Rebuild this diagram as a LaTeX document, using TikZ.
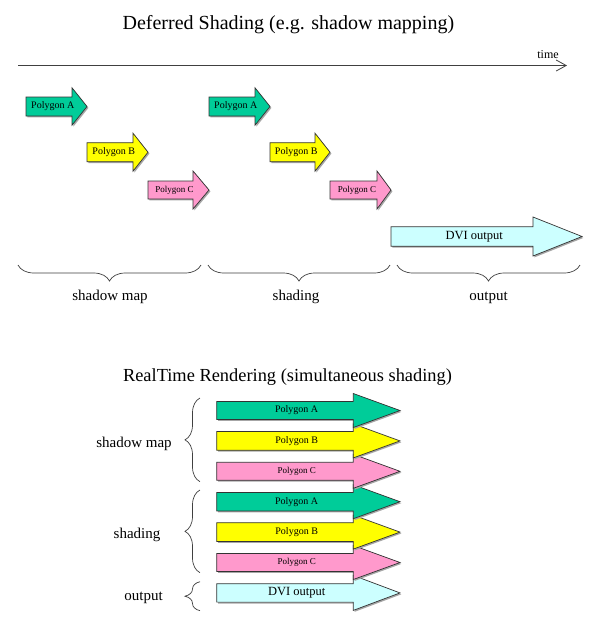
\documentclass[tikz,border=0pt]{standalone}
\usepackage{fontspec}
\setmainfont{Liberation Serif}
\usetikzlibrary{arrows.meta,decorations.pathreplacing}
\definecolor{polyA}{HTML}{00CC99}
\definecolor{polyB}{HTML}{FFFF00}
\definecolor{polyC}{HTML}{FF99CC}
\definecolor{dvi}{HTML}{CCFFFF}
\definecolor{lineclr}{HTML}{404040}
\newcommand{\arrowpath}[6]{(#1,{#4-#5}) -- (#2,{#4-#5}) -- (#2,{#4-#6}) -- (#3,#4) -- (#2,{#4+#6}) -- (#2,{#4+#5}) -- (#1,{#4+#5}) -- cycle}
\newcommand{\polyarrow}[9]{%
  \fill[arrowshadow] \arrowpath{#2}{#3}{#4}{#5}{#6}{#7};
  \draw[arrowbody,fill=#8] \arrowpath{#2}{#3}{#4}{#5}{#6}{#7};
  \node[arrowlabel] (#1) at ({(2*#2+#3+#4)/4},#5) {#9};
}
\tikzset{
  arrowshadow/.style={gray!70,shift={(1.4,1.4)}},
  arrowbody/.style={draw=black!80,line width=0.7pt,line join=miter},
  arrowlabel/.style={inner sep=0pt,text=black},
  bigtext/.style={font=\fontsize{20}{24}\selectfont,anchor=base,inner sep=0pt},
  phase/.style={font=\fontsize{15}{18}\selectfont,anchor=base,inner sep=0pt},
  bracehoriz/.style={draw=lineclr,line width=0.7pt,decorate,decoration={brace,amplitude=16pt}},
  bracevert/.style={draw=lineclr,line width=0.7pt,decorate,decoration={brace,amplitude=15pt}},
  timeaxis/.style={draw=lineclr,line width=0.8pt,-{Straight Barb[length=10pt,width=11pt]}},
}
\newcommand{\fA}{\fontsize{10}{12}\selectfont}
\newcommand{\fC}{\fontsize{9}{11}\selectfont}
\newcommand{\fD}{\fontsize{12.5}{15}\selectfont}
\begin{document}
\begin{tikzpicture}[x=1pt,y=-1pt]
\fill[white] (0,0) rectangle (600,625);
\useasboundingbox (0,0) rectangle (600,625);

% ---------- Deferred shading ----------
\node[bigtext] (title1) at (288.4,29) {Deferred Shading (e.g. shadow mapping)};
\coordinate (t0) at (18,65.5);
\coordinate (t1) at (567,65.5);
\draw[timeaxis] (t0) -- (t1);
\node[font=\fontsize{12}{14}\selectfont,anchor=base,inner sep=0pt] (timelbl) at (548,58.5) {time};

\polyarrow{a1}{26}{72}{87}{106.5}{9.5}{18.7}{polyA}{\fA Polygon A}
\polyarrow{b1}{87}{133}{148}{152.2}{9.5}{19}{polyB}{\fA Polygon B}
\polyarrow{c1}{148}{193}{209}{190}{9}{19}{polyC}{\fC Polygon C}
\polyarrow{a2}{209}{255}{270}{106.5}{9.5}{18.7}{polyA}{\fA Polygon A}
\polyarrow{b2}{270}{315}{330}{152.2}{9.5}{19}{polyB}{\fA Polygon B}
\polyarrow{c2}{330}{377}{391}{190}{9}{19}{polyC}{\fC Polygon C}
\polyarrow{d1}{391}{533}{582}{236.5}{9.7}{19.5}{dvi}{\fD DVI output}

\coordinate (b1s) at (201,265); \coordinate (b1e) at (18,265);
\coordinate (b2s) at (390,265); \coordinate (b2e) at (208,265);
\coordinate (b3s) at (580,265); \coordinate (b3e) at (397,265);
\draw[bracehoriz] (b1s) -- (b1e);
\draw[bracehoriz] (b2s) -- (b2e);
\draw[bracehoriz] (b3s) -- (b3e);
\node[phase] (l1) at (110,300) {shadow map};
\node[phase] (l2) at (296,300) {shading};
\node[phase] (l3) at (488.5,300) {output};

% ---------- RealTime rendering ----------
\node[bigtext,font=\fontsize{18.4}{22}\selectfont] (title2) at (287.5,381) {RealTime Rendering (simultaneous shading)};

\polyarrow{rd}{216.7}{353.3}{400}{592.9}{9.2}{17.5}{dvi}{\fD DVI output}
\polyarrow{rc2}{216.7}{353.3}{400}{562.5}{9}{17}{polyC}{\fC Polygon C}
\polyarrow{rb2}{216.7}{353.3}{400}{532.1}{9.4}{17}{polyB}{\fA Polygon B}
\polyarrow{ra2}{216.7}{353.3}{400}{501.7}{9.2}{17}{polyA}{\fA Polygon A}
\polyarrow{rc1}{216.7}{353.3}{400}{471.3}{9}{17}{polyC}{\fC Polygon C}
\polyarrow{rb1}{216.7}{353.3}{400}{440.9}{9.4}{17}{polyB}{\fA Polygon B}
\polyarrow{ra1}{216.7}{353.3}{400}{410.5}{9}{17}{polyA}{\fA Polygon A}

\coordinate (v1s) at (200,481.7); \coordinate (v1e) at (200,398);
\coordinate (v2s) at (200,572.7); \coordinate (v2e) at (200,490);
\coordinate (v3s) at (200,610.7); \coordinate (v3e) at (200,581.7);
\draw[bracevert] (v1s) -- (v1e);
\draw[bracevert] (v2s) -- (v2e);
\draw[bracevert] (v3s) -- (v3e);
\node[phase] (r1) at (134,447) {shadow map};
\node[phase] (r2) at (137,538.5) {shading};
\node[phase] (r3) at (143.5,600) {output};
\end{tikzpicture}
\end{document}
